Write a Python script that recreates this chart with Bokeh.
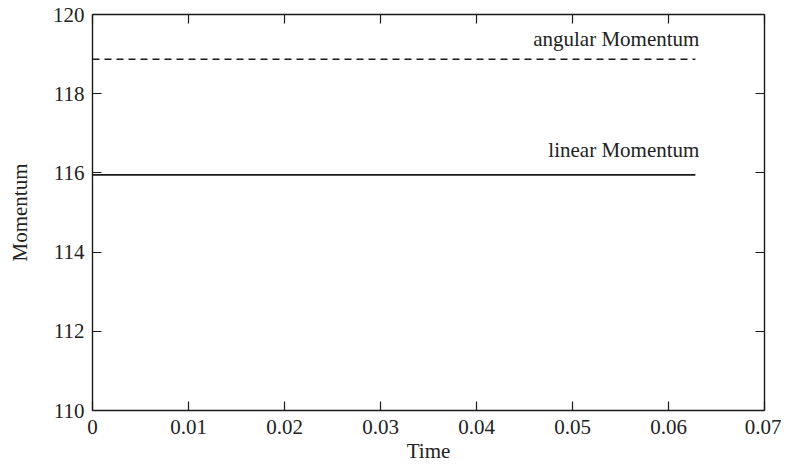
from bokeh.plotting import figure
from bokeh.models import LinearAxis, FixedTicker, CustomJSTickFormatter, Range1d, ColumnDataSource
from bokeh.core.properties import value
from bokeh.embed import file_html
from bokeh.resources import INLINE

# data
time = [0.0, 0.0628]
angular_momentum = [118.87, 118.87]
linear_momentum = [115.95, 115.95]
x_ticks = [0, 0.01, 0.02, 0.03, 0.04, 0.05, 0.06, 0.07]
y_ticks = [110, 112, 114, 116, 118, 120]
label_names = ["angular Momentum", "linear Momentum"]

FONT = "Liberation Serif"
FS = "21px"
COL = "#1a1a1a"

p = figure(width=781, height=465, output_backend="svg", toolbar_location=None,
           x_range=Range1d(0, 0.07), y_range=Range1d(110, 120),
           min_border_left=92, min_border_right=17, min_border_top=14, min_border_bottom=52)
p.xgrid.visible = False
p.ygrid.visible = False
p.outline_line_color = None
p.background_fill_color = "white"
p.border_fill_color = "white"

p.line(time, angular_momentum, line_color=COL, line_width=1.4, line_dash="7 5")
p.line(time, linear_momentum, line_color=COL, line_width=1.6)

src = ColumnDataSource(dict(x=[time[-1], time[-1]],
                            y=[angular_momentum[-1], linear_momentum[-1]],
                            t=label_names, off=[-20, -25]))
p.text(x="x", y="y", text="t", y_offset="off", source=src, text_align="right",
       text_baseline="alphabetic", text_font=value(FONT), text_font_size=FS,
       text_color="#222222", x_offset=4)

def style(ax, ticks, labels=True):
    ax.ticker = FixedTicker(ticks=ticks)
    ax.axis_line_color = COL
    ax.axis_line_width = 1.4
    ax.major_tick_line_color = COL
    ax.major_tick_line_width = 1.2
    ax.major_tick_in = 9
    ax.major_tick_out = 0
    ax.minor_tick_line_color = None
    if labels:
        ax.major_label_text_font = FONT
        ax.major_label_text_font_size = FS
        ax.major_label_text_color = "#222222"
        ax.axis_label_text_font = FONT
        ax.axis_label_text_font_size = FS
        ax.axis_label_text_font_style = "normal"
        ax.axis_label_text_color = "#222222"
    else:
        ax.formatter = CustomJSTickFormatter(code="return ''")
        ax.major_label_text_font_size = "0px"
        ax.major_label_standoff = 0

xa = p.xaxis[0]
ya = p.yaxis[0]
style(xa, x_ticks)
style(ya, y_ticks)
xa.axis_label = "Time"
ya.axis_label = "Momentum"
xa.major_label_standoff = 9
ya.major_label_standoff = 8
xa.axis_label_standoff = 2
ya.axis_label_standoff = 18
xa.formatter = CustomJSTickFormatter(code="return tick == 0 ? '0' : tick.toFixed(2)")

top = LinearAxis()
right = LinearAxis()
style(top, x_ticks, labels=False)
style(right, y_ticks, labels=False)
p.add_layout(top, "above")
p.add_layout(right, "right")

open("out.html", "w").write(file_html(p, INLINE))
